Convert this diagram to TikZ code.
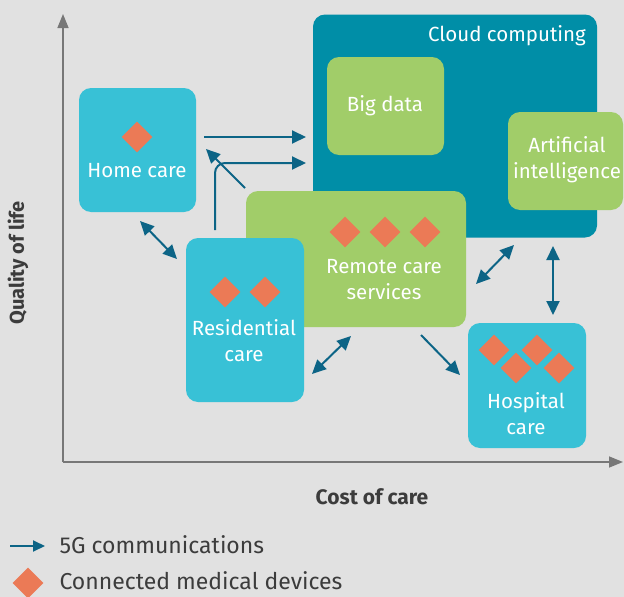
\documentclass[tikz,border=0pt]{standalone}
\usepackage{fontspec}
\setmainfont{Fira Sans}
\usetikzlibrary{arrows.meta,shapes.geometric}

\definecolor{bgrey}{HTML}{E1E1E1}
\definecolor{cloudteal}{HTML}{008EA7}
\definecolor{boxgreen}{HTML}{A1CD69}
\definecolor{boxcyan}{HTML}{38C1D6}
\definecolor{linkblue}{HTML}{0C6486}
\definecolor{devorange}{HTML}{EB7A56}
\definecolor{axisgrey}{HTML}{777777}
\definecolor{txtgrey}{HTML}{3C3C3C}

\tikzset{
	box/.style={rounded corners=12pt, inner sep=0pt},
	dev/.style={diamond, fill=devorange, minimum size=31pt, inner sep=0pt},
	lbl/.style={text=white, font=\fontsize{20.5}{26}\selectfont, align=center},
	link/.style={draw=linkblue, line width=2pt, -{Triangle[length=14pt,width=13pt]}},
	twolink/.style={link, {Triangle[length=14pt,width=13pt]}-{Triangle[length=14pt,width=13pt]}},
	axis/.style={draw=axisgrey, line width=1.5pt, -{Triangle[length=14pt,width=11pt]}}
}

\begin{document}
\begin{tikzpicture}[x=1pt,y=-1pt]

\fill[bgrey] (0,0) rectangle (624,597);
\useasboundingbox (0,0) rectangle (624,597);

% axes
\coordinate (o) at (63,462);
\coordinate (ytop) at (63,14);
\coordinate (xend) at (623,462);
\draw[axis] (o) -- (ytop);
\draw[axis] (o) -- (xend);
\node[rotate=90, text=txtgrey, font=\bfseries\fontsize{20}{24}\selectfont] (qol) at (18,263) {Quality of life};
\node[text=txtgrey, font=\bfseries\fontsize{21}{24}\selectfont] (coc) at (372,497) {Cost of care};

% boxes
\node[box, fill=cloudteal, minimum width=284pt, minimum height=223pt] (cloud) at (455,126) {};
\node[box, fill=boxgreen, minimum width=117pt, minimum height=98pt] (big) at (385.5,106) {};
\node[box, fill=boxgreen, minimum width=115pt, minimum height=98pt] (ai) at (565.5,161) {};
\node[box, fill=boxcyan, minimum width=117pt, minimum height=124pt] (home) at (137.5,150) {};
\node[box, fill=boxgreen, minimum width=220pt, minimum height=136pt] (remote) at (356,259) {};
\node[box, fill=boxcyan, minimum width=118pt, minimum height=164pt] (resid) at (245,320) {};
\node[box, fill=boxcyan, minimum width=118pt, minimum height=125pt] (hosp) at (527,385.5) {};

\node[lbl] (cloudtxt) at (507,36) {Cloud computing};
\node[lbl] (bigtxt) at (385,106) {Big data};
\node[lbl] (aitxt) at (567,160) {Artificial\\intelligence};
\node[lbl] (hometxt) at (137,171) {Home care};
\node[lbl] (remotetxt) at (384,280) {Remote care\\services};
\node[lbl] (residtxt) at (244,341) {Residential\\care};
\node[lbl] (hosptxt) at (526,414) {Hospital\\care};

% devices
\node[dev] (d1) at (137,137) {};
\foreach \x in {345,385,425}
	\node[dev] at (\x,232) {};
\foreach \x in {225,265}
	\node[dev] at (\x,292) {};
\node[dev] (h1) at (494,350) {};
\node[dev] (h2) at (537,350) {};
\node[dev] (h3) at (516,368) {};
\node[dev] (h4) at (559,368) {};

% links
\coordinate (a1) at (204,137);
\coordinate (a2) at (306,137);
\coordinate (b1) at (215,230);
\coordinate (b2) at (306,163);
\coordinate (c1) at (245,188);
\coordinate (c2) at (206,149);
\coordinate (e1) at (140,221);
\coordinate (e2) at (177,259);
\coordinate (f1) at (312,374);
\coordinate (f2) at (351,336);
\coordinate (g1) at (421,335);
\coordinate (g2) at (460,375);
\coordinate (k1) at (476,284);
\coordinate (k2) at (514,245);
\coordinate (m1) at (553,246);
\coordinate (m2) at (553,315);

\draw[link] (a1) -- (a2);
\draw[link, rounded corners=10pt] (b1) |- (b2);
\draw[link] (c1) -- (c2);
\draw[twolink] (e1) -- (e2);
\draw[twolink] (f1) -- (f2);
\draw[link] (g1) -- (g2);
\draw[twolink] (k1) -- (k2);
\draw[twolink] (m1) -- (m2);

% legend
\coordinate (l1) at (10,546);
\coordinate (l2) at (45,546);
\draw[link, -{Triangle[length=12pt,width=11pt]}] (l1) -- (l2);
\node[dev] (ldev) at (28,583) {};
\node[anchor=west, text=txtgrey, font=\fontsize{23}{26}\selectfont] (ltxt1) at (56,545) {5G communications};
\node[anchor=west, text=txtgrey, font=\fontsize{23}{26}\selectfont] (ltxt2) at (56,581) {Connected medical devices};

\end{tikzpicture}
\end{document}
